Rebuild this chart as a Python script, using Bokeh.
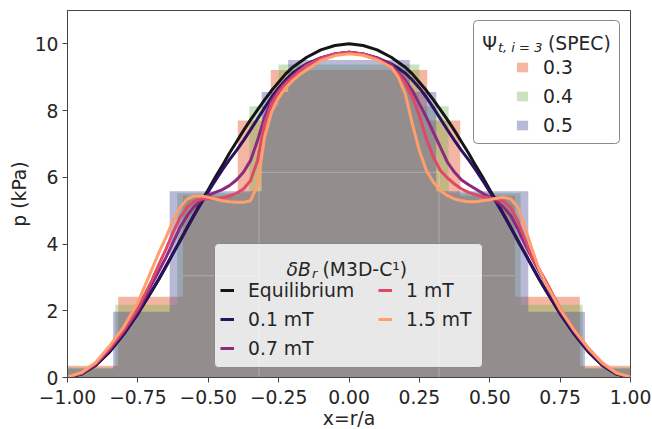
from bokeh.plotting import figure
from bokeh.models import (Range1d, FixedTicker, CustomJSTickFormatter, Legend, LegendItem,
                          BoxAnnotation, Label)
from bokeh.embed import file_html
from bokeh.resources import INLINE

# ---------------- data ----------------
x = [-1.0, -0.95, -0.9, -0.85, -0.8, -0.75, -0.7, -0.675, -0.65, -0.625,
     -0.6, -0.575, -0.55, -0.525, -0.5, -0.475, -0.45, -0.425, -0.4, -0.375,
     -0.35, -0.325, -0.3, -0.275, -0.25, -0.225, -0.2, -0.175, -0.15, -0.1,
     -0.05, 0.0,
     0.05, 0.1, 0.15, 0.175, 0.2, 0.225, 0.25, 0.275, 0.3, 0.325,
     0.35, 0.375, 0.4, 0.425, 0.45, 0.475, 0.5, 0.525, 0.55, 0.575,
     0.6, 0.625, 0.65, 0.675, 0.7, 0.75, 0.8, 0.85, 0.9, 0.95, 1.0]

p_equilibrium = [0.0, 0.1, 0.36, 0.77, 1.3, 1.91, 2.6, 2.95, 3.33, 3.72,
                 4.1, 4.5, 4.88, 5.27, 5.63, 6.0, 6.35, 6.72, 7.06, 7.4,
                 7.72, 8.02, 8.32, 8.6, 8.85, 9.1, 9.3, 9.45, 9.6, 9.82,
                 9.95, 10.0,
                 9.95, 9.82, 9.6, 9.45, 9.3, 9.1, 8.85, 8.6, 8.32, 8.02,
                 7.72, 7.4, 7.06, 6.72, 6.35, 6.0, 5.63, 5.27, 4.88, 4.5,
                 4.1, 3.72, 3.33, 2.95, 2.6, 1.91, 1.3, 0.77, 0.36, 0.1, 0.0]

p_01mT = [0.0, 0.11, 0.37, 0.79, 1.31, 1.92, 2.6, 2.96, 3.34, 3.72,
          4.1, 4.48, 4.86, 5.22, 5.57, 5.9, 6.22, 6.52, 6.8, 7.1,
          7.42, 7.75, 8.08, 8.4, 8.68, 8.92, 9.12, 9.27, 9.4, 9.58,
          9.7, 9.75,
          9.7, 9.58, 9.4, 9.27, 9.12, 8.92, 8.68, 8.4, 8.08, 7.75,
          7.42, 7.1, 6.8, 6.52, 6.22, 5.9, 5.57, 5.22, 4.86, 4.48,
          4.1, 3.72, 3.34, 2.96, 2.6, 1.92, 1.31, 0.79, 0.37, 0.11, 0.0]

p_07mT = [0.0, 0.12, 0.4, 0.84, 1.38, 2.0, 2.8, 3.2, 3.6, 4.05,
          4.5, 4.85, 5.12, 5.32, 5.46, 5.55, 5.63, 5.75, 5.92, 6.15,
          6.5, 7.1, 7.8, 8.3, 8.6, 8.85, 9.05, 9.22, 9.38, 9.58,
          9.7, 9.75,
          9.7, 9.58, 9.38, 9.15, 8.9, 8.6, 8.2, 7.8, 7.35, 6.9,
          6.45, 6.15, 5.92, 5.78, 5.65, 5.52, 5.4, 5.28, 5.1, 4.85,
          4.45, 4.0, 3.58, 3.18, 2.8, 2.0, 1.38, 0.84, 0.4, 0.12, 0.0]

p_1mT = [0.01, 0.13, 0.42, 0.88, 1.42, 2.08, 2.92, 3.4, 3.85, 4.35,
         4.8, 5.1, 5.28, 5.35, 5.36, 5.36, 5.38, 5.44, 5.52, 5.65,
         5.9, 6.5, 7.6, 8.2, 8.55, 8.8, 9.0, 9.18, 9.35, 9.56,
         9.7, 9.75,
         9.7, 9.55, 9.3, 9.1, 8.82, 8.4, 7.85, 7.15, 6.6, 6.2,
         5.98, 5.8, 5.65, 5.55, 5.48, 5.42, 5.38, 5.35, 5.28, 5.08,
         4.68, 4.15, 3.6, 3.25, 2.88, 2.06, 1.42, 0.88, 0.42, 0.13, 0.01]

p_15mT = [0.02, 0.15, 0.45, 0.95, 1.52, 2.25, 3.25, 3.75, 4.2, 4.7,
          5.1, 5.35, 5.44, 5.44, 5.4, 5.35, 5.3, 5.27, 5.25, 5.25,
          5.3, 5.75, 7.2, 7.95, 8.38, 8.68, 8.9, 9.08, 9.22, 9.5,
          9.65, 9.7,
          9.66, 9.52, 9.3, 9.0, 8.5, 7.6, 6.8, 6.2, 5.85, 5.6,
          5.45, 5.35, 5.3, 5.27, 5.27, 5.3, 5.33, 5.37, 5.4, 5.35,
          5.1, 4.5, 3.85, 3.25, 2.8, 2.05, 1.42, 0.88, 0.44, 0.14, 0.02]

curve_labels = ["Equilibrium", "0.1 mT", "0.7 mT", "1 mT", "1.5 mT"]
curve_colors = ["#151515", "#2c115f", "#8c2981", "#de4968", "#fe9f6d"]

# SPEC stepped profiles: volume interfaces and volume pressures
spec_labels = ["0.3", "0.4", "0.5"]
edges_03 = [-1.0, -0.82, -0.59, -0.395, -0.278, 0.278, 0.395, 0.59, 0.82, 1.0]
pres_03 = [0.35, 2.42, 5.45, 7.7, 9.22, 7.7, 5.45, 2.42, 0.35]
edges_04 = [-1.0, -0.83, -0.61, -0.354, -0.25, 0.25, 0.354, 0.61, 0.83, 1.0]
pres_04 = [0.3, 2.18, 5.52, 8.13, 9.38, 8.13, 5.52, 2.18, 0.3]
edges_05 = [-1.0, -0.838, -0.637, -0.31, -0.216, 0.216, 0.31, 0.637, 0.838, 1.0]
pres_05 = [0.27, 1.97, 5.58, 8.56, 9.52, 8.56, 5.58, 1.97, 0.27]
spec_colors = ["#df4917", "#7db758", "#4b509b"]
spec_alpha = 0.4

# faint inner outline seen inside the overlap region
inner_edges = [-0.59, -0.32, 0.32, 0.59]
inner_levels = [3.05, 6.15, 3.05]

x_ticks = [-1.0, -0.75, -0.5, -0.25, 0.0, 0.25, 0.5, 0.75, 1.0]
x_tick_labels = ["\u22121.00", "\u22120.75", "\u22120.50", "\u22120.25", "0.00",
                 "0.25", "0.50", "0.75", "1.00"]
y_ticks = [0, 2, 4, 6, 8, 10]
y_tick_labels = ["0", "2", "4", "6", "8", "10"]
x_title = "x=r/a"
y_title = "p (kPa)"

FONT = "DejaVu Sans"
FS = "18.75px"
TXT = "#262626"
EDGE = "#444444"

# ---------------- figure ----------------
p = figure(width=652, height=429, output_backend="svg", toolbar_location=None,
           x_range=Range1d(-1, 1), y_range=Range1d(0, 11),
           min_border_left=67, min_border_right=22, min_border_top=10, min_border_bottom=52)
p.background_fill_color = "white"
p.border_fill_color = "white"
p.outline_line_color = EDGE
p.outline_line_width = 1
p.xgrid.visible = False
p.ygrid.visible = False

fmt_js = """
const i = tvals.findIndex(t => Math.abs(t - tick) < 1e-9);
return i >= 0 ? tlabels[i] : '';
"""
p.xaxis.ticker = FixedTicker(ticks=x_ticks)
p.yaxis.ticker = FixedTicker(ticks=y_ticks)
p.xaxis.formatter = CustomJSTickFormatter(args=dict(tvals=x_ticks, tlabels=x_tick_labels), code=fmt_js)
p.yaxis.formatter = CustomJSTickFormatter(args=dict(tvals=y_ticks, tlabels=y_tick_labels), code=fmt_js)
p.yaxis.axis_label = y_title
for ax in (p.xaxis[0], p.yaxis[0]):
    ax.axis_line_color = EDGE
    ax.major_tick_line_color = EDGE
    ax.major_tick_out = 5
    ax.major_tick_in = 0
    ax.minor_tick_line_color = None
    ax.major_label_text_font = FONT
    ax.major_label_text_font_size = FS
    ax.major_label_text_color = TXT
    ax.major_label_standoff = 4
    ax.axis_label_text_font = FONT
    ax.axis_label_text_font_size = FS
    ax.axis_label_text_font_style = "normal"
    ax.axis_label_text_color = TXT
p.yaxis.axis_label_standoff = 2
p.xaxis.major_label_standoff = 7

# stepped SPEC profiles
spec_renderers = []
for edges, pres, col in zip([edges_03, edges_04, edges_05], [pres_03, pres_04, pres_05], spec_colors):
    r = p.varea_step(x=edges, y1=[0] * len(edges), y2=pres + [pres[-1]], step_mode="after",
                     fill_color=col, fill_alpha=spec_alpha)
    spec_renderers.append(r)

# faint inner outline
p.segment(x0=inner_edges[:-1], x1=inner_edges[1:], y0=inner_levels, y1=inner_levels,
          line_color="white", line_alpha=0.28, line_width=1)
p.segment(x0=inner_edges[1:3], x1=inner_edges[1:3], y0=[0, 0], y1=[max(inner_levels)] * 2,
          line_color="white", line_alpha=0.28, line_width=1)

# M3D-C1 pressure profiles
curve_renderers = []
for ys, col in zip([p_equilibrium, p_01mT, p_07mT, p_1mT, p_15mT], curve_colors):
    r = p.line(x, ys, line_color=col, line_width=3, line_join="round")
    curve_renderers.append(r)

# ---------------- legends ----------------
def legend_box(left, right, top, bottom):
    return BoxAnnotation(left=left, right=right, top=top, bottom=bottom,
                         left_units="screen", right_units="screen",
                         top_units="screen", bottom_units="screen",
                         fill_color="white", fill_alpha=0.8,
                         line_color="#8a8a8a", line_alpha=1.0, line_width=1,
                         line_dash="solid", border_radius=4)

p.add_layout(legend_box(406, 552, 357, 234))
p.add_layout(legend_box(147, 415, 134, 10))

def mk_label(xp, yp, text, size=FS, style="normal", align="left", units="screen"):
    return Label(x=xp, y=yp, x_units=units, y_units=units, text=text,
                 text_font=FONT, text_font_size=size, text_font_style=style,
                 text_color=TXT, text_align=align, text_baseline="alphabetic")

# x-axis title, placed in the panel below the frame
try:
    xlab = mk_label(348.5, 418, x_title, align="center", units="canvas")
except ValueError:
    xlab = mk_label(281.5, -41, x_title, align="center")
p.add_layout(xlab, "below")

# SPEC legend title: Psi_{t, i=3} (SPEC)
p.add_layout(mk_label(414.7, 333.7, "\u03a8"))
p.add_layout(mk_label(430.5, 330.5, "t, i = 3", size="13px", style="italic"))
p.add_layout(mk_label(480.5, 333.7, "(SPEC)"))

# M3D-C1 legend title: deltaB_r (M3D-C^1)
p.add_layout(mk_label(219, 107.7, "\u03b4B", style="italic"))
p.add_layout(mk_label(244.5, 104.2, "r", size="13px", style="italic"))
p.add_layout(mk_label(255, 107.7, "(M3D-C\u00b9)"))

def mk_legend(items, loc, gh):
    return Legend(items=items, location=loc, orientation="vertical",
                  glyph_width=14, glyph_height=gh, label_height=22, label_standoff=14,
                  spacing=7, padding=0, margin=0,
                  border_line_color=None, background_fill_alpha=0.0,
                  label_text_font=FONT, label_text_font_size=FS, label_text_color=TXT)

leg_spec = mk_legend([LegendItem(label=l, renderers=[r]) for l, r in zip(spec_labels, spec_renderers)],
                     (448, 241), 12)
leg_c1 = mk_legend([LegendItem(label=l, renderers=[r]) for l, r in zip(curve_labels[:3], curve_renderers[:3])],
                   (153, 18), 22)
leg_c2 = mk_legend([LegendItem(label=l, renderers=[r]) for l, r in zip(curve_labels[3:], curve_renderers[3:])],
                   (311, 47), 22)
for lg in (leg_spec, leg_c1, leg_c2):
    p.add_layout(lg)

open("out.html", "w").write(file_html(p, INLINE))
